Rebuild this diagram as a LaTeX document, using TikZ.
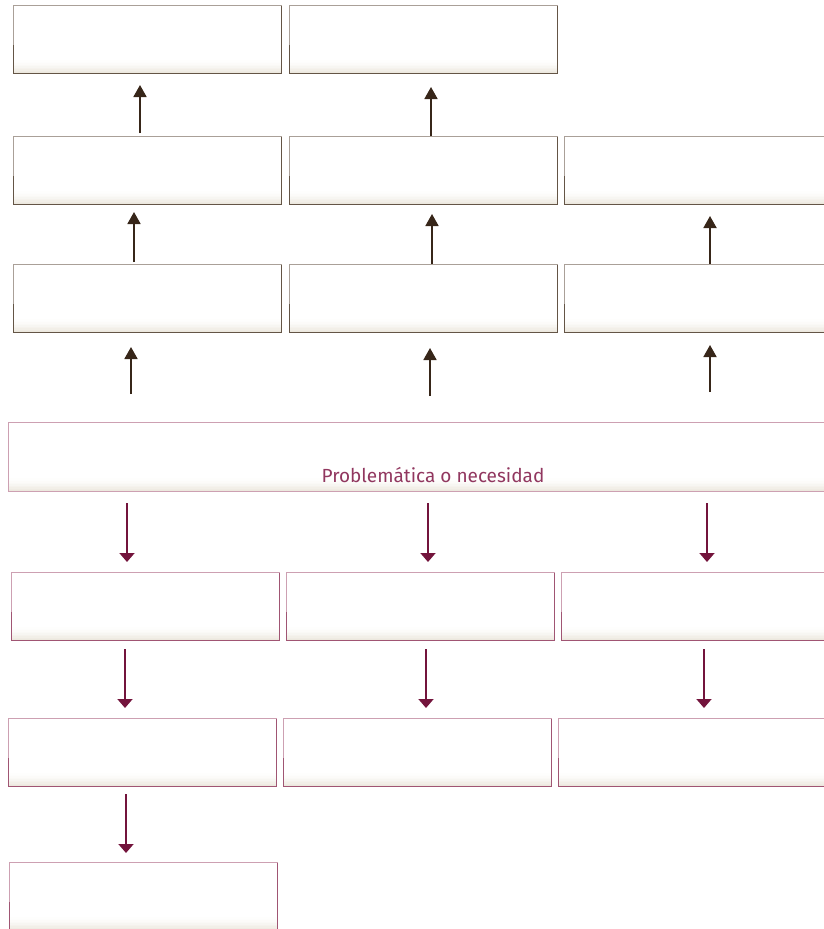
\documentclass[tikz,border=0pt]{standalone}
\usepackage{fontspec}
\usetikzlibrary{arrows.meta}
\setmainfont{Fira Sans}
\definecolor{brownline}{RGB}{100,85,70}
\definecolor{brownlight}{RGB}{170,160,152}
\definecolor{brownarrow}{RGB}{55,38,25}
\definecolor{pinkline}{RGB}{160,85,115}
\definecolor{pinklight}{RGB}{205,160,178}
\definecolor{maroonarrow}{RGB}{115,20,60}
\definecolor{textmaroon}{RGB}{145,55,95}
\definecolor{boxfoot}{RGB}{236,232,222}
\begin{document}
\begin{tikzpicture}[x=1pt,y=-1pt,
  foot/.style={path picture={
     \foreach \k/\c in {0/100,1/85,2/70,3/55,4/40,5/28,6/18,7/10,8/5}{
       \fill[boxfoot!\c!white] ([yshift={1.5*\k*1pt}]path picture bounding box.south west) rectangle ([yshift={1.5*(\k+1)*1pt}]path picture bounding box.south east);}}},
  bbox/.style={draw=brownline,line width=1pt,anchor=north west,minimum width=268pt,minimum height=68pt,inner sep=0pt,foot},
  pbox/.style={draw=pinkline,line width=1pt,anchor=north west,minimum width=268pt,minimum height=68pt,inner sep=0pt,foot},
  bedge/.style={draw=brownlight,line width=1pt},
  pedge/.style={draw=pinklight,line width=1pt},
  uparrow/.style={draw=brownarrow,line width=1.8pt,-{Triangle[width=13pt,length=12pt]}},
  downarrow/.style={draw=maroonarrow,line width=1.8pt,-{Triangle[width=15pt,length=9pt]}},
  ]
\useasboundingbox (0,0) rectangle (823,929);
% top rows
\node[bbox] (a1) at (13,5) {};
\node[bbox] (b1) at (289,5) {};
\node[bbox] (a2) at (13,136) {};
\node[bbox] (b2) at (289,136) {};
\node[bbox] (c2) at (564,136) {};
\node[bbox] (a3) at (13,264) {};
\node[bbox] (b3) at (289,264) {};
\node[bbox] (c3) at (564,264) {};
\foreach \n in {a1,b1,a2,b2,c2,a3,b3,c3}{
  \draw[bedge] (\n.north west) -- ([yshift=-40pt]\n.north west) (\n.north west) -- (\n.north east);
}
% central
\node[draw=pinklight,line width=1pt,anchor=north west,minimum width=830pt,minimum height=69pt,inner sep=0pt,foot] (p) at (8,422) {};
\node[text=textmaroon,font=\fontsize{19}{22}\selectfont,anchor=base] (pt) at (433,482) {Problemática o necesidad};
% lower rows
\node[pbox] (d4) at (11,572) {};
\node[pbox] (e4) at (286,572) {};
\node[pbox] (f4) at (561,572) {};
\node[pbox] (d5) at (8,718) {};
\node[pbox] (e5) at (283,718) {};
\node[pbox] (f5) at (558,718) {};
\node[pbox] (d6) at (9,862) {};
\foreach \n in {d4,e4,f4,d5,e5,f5,d6}{
  \draw[pedge] (\n.north west) -- ([yshift=-40pt]\n.north west) (\n.north west) -- (\n.north east);
}
% arrow coordinates
\coordinate (u1s) at (140,133); \coordinate (u1e) at (140,85);
\coordinate (u2s) at (431,136); \coordinate (u2e) at (431,87);
\coordinate (u3s) at (134,262); \coordinate (u3e) at (134,212);
\coordinate (u4s) at (432,264); \coordinate (u4e) at (432,214);
\coordinate (u5s) at (710,264); \coordinate (u5e) at (710,216);
\coordinate (u6s) at (131,394); \coordinate (u6e) at (131,347);
\coordinate (u7s) at (430,396); \coordinate (u7e) at (430,348);
\coordinate (u8s) at (710,392); \coordinate (u8e) at (710,345);
\foreach \i in {1,...,8}{\draw[uparrow] (u\i s) -- (u\i e);}
\coordinate (d1s) at (127,503); \coordinate (d1e) at (127,562);
\coordinate (d2s) at (428,503); \coordinate (d2e) at (428,562);
\coordinate (d3s) at (707,503); \coordinate (d3e) at (707,562);
\coordinate (d4s) at (125,649); \coordinate (d4e) at (125,708);
\coordinate (d5s) at (426,649); \coordinate (d5e) at (426,708);
\coordinate (d6s) at (704,649); \coordinate (d6e) at (704,708);
\coordinate (d7s) at (126,794); \coordinate (d7e) at (126,853);
\foreach \i in {1,...,7}{\draw[downarrow] (d\i s) -- (d\i e);}
\end{tikzpicture}
\end{document}
